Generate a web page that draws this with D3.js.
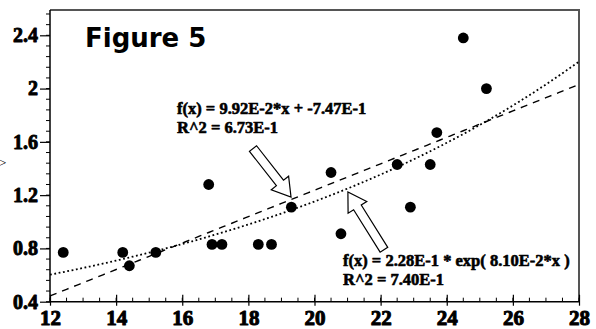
<!DOCTYPE html>
<html>
<head>
<meta charset="utf-8">
<script src="https://cdn.jsdelivr.net/npm/d3@7"></script>
<style>
  html, body { margin: 0; padding: 0; background: #fff; }
  svg { display: block; }
</style>
</head>
<body>
<svg id="chart" width="596" height="329"></svg>
<script>
// Observations
const xValues = [12.4, 14.2, 14.4, 15.2, 16.8, 16.9, 17.2, 18.3, 18.7, 19.3, 20.5, 20.8, 22.5, 22.9, 23.5, 23.7, 24.5, 25.2];
const yValues = [0.77, 0.77, 0.67, 0.77, 1.28, 0.83, 0.83, 0.83, 0.83, 1.11, 1.37, 0.91, 1.43, 1.11, 1.43, 1.67, 2.38, 2.00];

// Fitted models (coefficients as printed in the labels)
const linearFit = { slope: 9.92E-2, intercept: -7.47E-1 };
const expFit = { a: 2.28E-1, b: 8.10E-2 };
const linearLabel = ["f(x) = 9.92E-2*x + -7.47E-1", "R^2 = 6.73E-1"];
const expLabel = ["f(x) = 2.28E-1 * exp( 8.10E-2*x )", "R^2 = 7.40E-1"];

// Axis ticks
const xTicks = [12, 14, 16, 18, 20, 22, 24, 26, 28];
const yTicks = [0.4, 0.8, 1.2, 1.6, 2, 2.4];
const xDomain = [12, 28];
const yDomain = [0.4, 2.59];

const svg = d3.select("#chart");
const plot = { left: 50, right: 579, top: 10, bottom: 301.7 };

const x = d3.scaleLinear().domain(xDomain).range([plot.left, plot.right]);
const y = d3.scaleLinear().domain(yDomain).range([plot.bottom, plot.top]);

const serif = "'Liberation Serif', 'Times New Roman', serif";

// heavy serif text: bold weight plus a thin outline of the same colour
function heavy(sel, size, outline) {
  sel.attr("font-family", serif).attr("font-weight", "bold").attr("font-size", size)
    .attr("fill", "#000").attr("stroke", "#000").attr("stroke-width", outline)
    .attr("stroke-linejoin", "round");
}

// Frame: top and right edges
svg.append("path")
  .attr("d", `M${plot.left},${plot.top}H${plot.right}V${plot.bottom}`)
  .attr("fill", "none").attr("stroke", "#555").attr("stroke-width", 2);

// Minor ticks
const yMinor = d3.range(0, 28).map(i => +(0.4 + i * 0.08).toFixed(2)).filter(v => v <= yDomain[1]);
svg.append("g").selectAll("line").data(yMinor).join("line")
  .attr("x1", plot.left - 4).attr("x2", plot.left)
  .attr("y1", d => y(d)).attr("y2", d => y(d))
  .attr("stroke", "#000").attr("stroke-width", 1);
const xMinor = d3.range(12, 28.01, 0.5);
svg.append("g").selectAll("line").data(xMinor).join("line")
  .attr("x1", d => x(d)).attr("x2", d => x(d))
  .attr("y1", plot.bottom - 4).attr("y2", plot.bottom)
  .attr("stroke", "#000").attr("stroke-width", 1);

// Y axis
const yAxis = svg.append("g")
  .attr("transform", `translate(${plot.left},0)`)
  .call(d3.axisLeft(y).tickValues(yTicks).tickSize(10).tickPadding(2)
    .tickFormat(d => d3.format("")(+d.toFixed(1))));
yAxis.select(".domain").attr("stroke", "#000").attr("stroke-width", 1.5)
  .attr("d", `M0,${plot.top}V${plot.bottom}`);
yAxis.selectAll(".tick line").attr("stroke", "#000").attr("stroke-width", 1.2);
yAxis.selectAll(".tick text").call(heavy, 20, 0.9);

// X axis
const xAxis = svg.append("g")
  .attr("transform", `translate(0,${plot.bottom})`)
  .call(d3.axisBottom(x).tickValues(xTicks).tickSize(4).tickPadding(4));
xAxis.select(".domain").attr("stroke", "#000").attr("stroke-width", 1.5)
  .attr("d", `M${plot.left},0H${plot.right}`);
xAxis.selectAll(".tick line").attr("y1", -7).attr("stroke", "#000").attr("stroke-width", 1.2);
xAxis.selectAll(".tick text").call(heavy, 21, 1);

// Fitted curves
const xs = d3.range(xDomain[0], xDomain[1] + 0.001, 0.1);
const line = d3.line().x(d => x(d[0])).y(d => y(d[1]));
svg.append("path")
  .datum(xs.map(v => [v, linearFit.slope * v + linearFit.intercept]))
  .attr("d", line).attr("fill", "none").attr("stroke", "#000")
  .attr("stroke-width", 1.4).attr("stroke-dasharray", "7,6");
svg.append("path")
  .datum(xs.map(v => [v, expFit.a * Math.exp(expFit.b * v)]))
  .attr("d", line).attr("fill", "none").attr("stroke", "#000")
  .attr("stroke-width", 1.8).attr("stroke-dasharray", "1.8,2.6");

// Points
svg.append("g").selectAll("circle").data(xValues.map((v, i) => [v, yValues[i]])).join("circle")
  .attr("cx", d => x(d[0])).attr("cy", d => y(d[1])).attr("r", 5.4).attr("fill", "#000");

// Hollow block arrow from (x0,y0) to tip (x1,y1) in data units
function blockArrow(x0, y0, x1, y1) {
  const p0 = [x(x0), y(y0)], p1 = [x(x1), y(y1)];
  const dx = p1[0] - p0[0], dy = p1[1] - p0[1];
  const len = Math.hypot(dx, dy);
  const ux = dx / len, uy = dy / len, nx = -uy, ny = ux;
  const shaft = 4.5, head = 11, headLen = 18;
  const b = [p1[0] - ux * headLen, p1[1] - uy * headLen];
  const pts = [
    [p0[0] + nx * shaft, p0[1] + ny * shaft],
    [b[0] + nx * shaft, b[1] + ny * shaft],
    [b[0] + nx * head, b[1] + ny * head],
    p1,
    [b[0] - nx * head, b[1] - ny * head],
    [b[0] - nx * shaft, b[1] - ny * shaft],
    [p0[0] - nx * shaft, p0[1] - ny * shaft]
  ];
  svg.append("path")
    .attr("d", "M" + pts.map(p => p.join(",")).join("L") + "Z")
    .attr("fill", "#fff").attr("stroke", "#000").attr("stroke-width", 1.2);
}
blockArrow(18.14, 1.55, 19.29, 1.185);
blockArrow(22.1, 0.79, 21.01, 1.223);

// Equation labels
function labelBlock(lines, px, py) {
  const t = svg.append("text").call(heavy, 16.5, 0.6);
  lines.forEach((s, i) => t.append("tspan").attr("x", px).attr("y", py + i * 18.5).text(s));
}
labelBlock(linearLabel, 177, 114);
labelBlock(expLabel, 343, 266);

// Title
svg.append("text")
  .attr("x", 85).attr("y", 47)
  .attr("font-family", "'DejaVu Sans', sans-serif").attr("font-weight", "bold")
  .attr("font-size", 26).attr("fill", "#000")
  .text("Figure 5");

// Edge of the rotated axis caption
svg.append("text")
  .attr("x", -1).attr("y", 167)
  .attr("font-family", serif).attr("font-size", 13).attr("fill", "#000")
  .text(">");
</script>
</body>
</html>
